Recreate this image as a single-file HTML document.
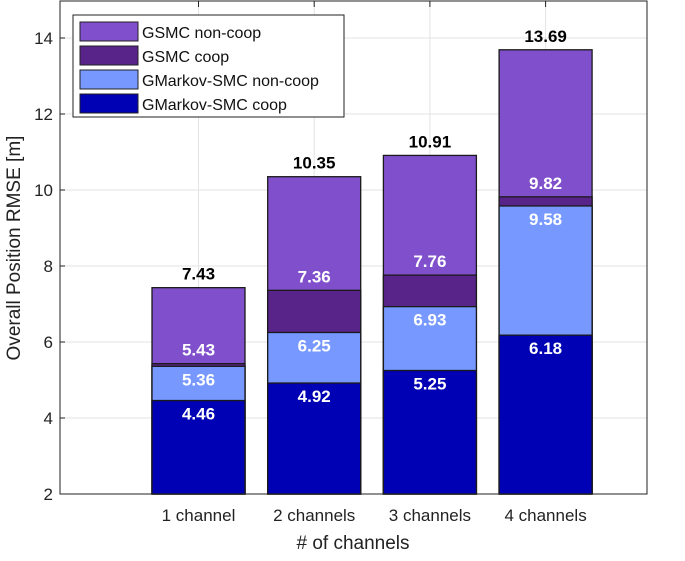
<!DOCTYPE html>
<html><head><meta charset="utf-8"><style>
body{margin:0;background:#fff;font-family:"Liberation Sans",Arial,sans-serif}
</style></head><body>
<svg id="chart" width="685" height="556" xmlns="http://www.w3.org/2000/svg"></svg>
<script>
const categories=["1 channel","2 channels","3 channels","4 channels"];
const gsmcNonCoop=[7.43,10.35,10.91,13.69];
const gsmcCoop=[5.43,7.36,7.76,9.82];
const gmarkovNonCoop=[5.36,6.25,6.93,9.58];
const gmarkovCoop=[4.46,4.92,5.25,6.18];
const yTicks=[2,4,6,8,10,12,14];
const seriesNames=["GSMC non-coop","GSMC coop","GMarkov-SMC non-coop","GMarkov-SMC coop"];
const colors=["#8050cc","#58248a","#7799ff","#0000b4"];

const NS="http://www.w3.org/2000/svg";
const svg=document.getElementById('chart');
const L=60,R=647,T=1,B=494;
const y=v=>494-(v-2)*38;
const x=i=>198.5+i*115.7;
const bw=93;
function mk(tag,attrs,parent){const e=document.createElementNS(NS,tag);for(const k in attrs)e.setAttribute(k,attrs[k]);(parent||svg).appendChild(e);return e;}

yTicks.forEach(t=>{
  const g=mk('line',{x1:L,x2:R,y1:y(t),y2:y(t),stroke:'#e3e3e3','stroke-width':1});
  
  
  const tk=mk('line',{x1:L,x2:L+5,y1:y(t),y2:y(t),stroke:'#222'});
  
  
  const tx=mk('text',{x:L-7,y:y(t)+6,'text-anchor':'end','font-size':17,fill:'#222'});
  tx.textContent=t;
  
  
});
categories.forEach((c,i)=>{
  const g=mk('line',{x1:x(i),x2:x(i),y1:T,y2:B,stroke:'#e3e3e3'});
  
  
  const tk=mk('line',{x1:x(i),x2:x(i),y1:T,y2:T+6,stroke:'#222'});
  
  
  const tx=mk('text',{x:x(i),y:521,'text-anchor':'middle','font-size':17,fill:'#222'});
  tx.textContent=c;
  
  
});

const series=[gsmcNonCoop,gsmcCoop,gmarkovNonCoop,gmarkovCoop];
series.forEach((s,k)=>{
  s.forEach((v,i)=>{
    const r=mk('rect',{x:x(i)-bw/2,y:y(v),width:bw,height:y(2)-y(v),fill:colors[k],stroke:'#1a1a1a','stroke-width':1.3});
    
    
  });
});
series.forEach((s,k)=>{
  s.forEach((v,i)=>{
    let ly,fill='#fff';
    if(k===0){ly=y(v)-8;fill='#000';}
    else if(k===1){ly=y(v)-8;}
    else{ly=y(v)+19;}
    const t=mk('text',{x:x(i),y:ly,'text-anchor':'middle','font-size':17,'font-weight':'bold',fill:fill});
    t.textContent=v.toFixed(2);
    
    
  });
});

const fr=mk('rect',{x:L,y:T,width:R-L,height:B-T,fill:'none',stroke:'#222','stroke-width':1});



const lg=mk('g',{});


mk('rect',{x:73,y:15,width:271,height:102,fill:'#fff',stroke:'#222','stroke-width':1},lg);
seriesNames.forEach((n,k)=>{
  const yy=21+k*24;
  const sw=mk('rect',{x:80,y:yy+1,width:58,height:19,fill:colors[k],stroke:'#222','stroke-width':1},lg);
  
  
  const t=mk('text',{x:142,y:yy+17,'font-size':16,fill:'#111'},lg);
  t.textContent=n;
  
  
});

const xt=mk('text',{x:353,y:549,'text-anchor':'middle','font-size':19,fill:'#222'});
xt.textContent='# of channels';


const yt=mk('text',{x:0,y:0,'text-anchor':'middle','font-size':19,fill:'#222',transform:'translate(20,248) rotate(-90)'});
yt.textContent='Overall Position RMSE [m]';


</script>
</body></html>
